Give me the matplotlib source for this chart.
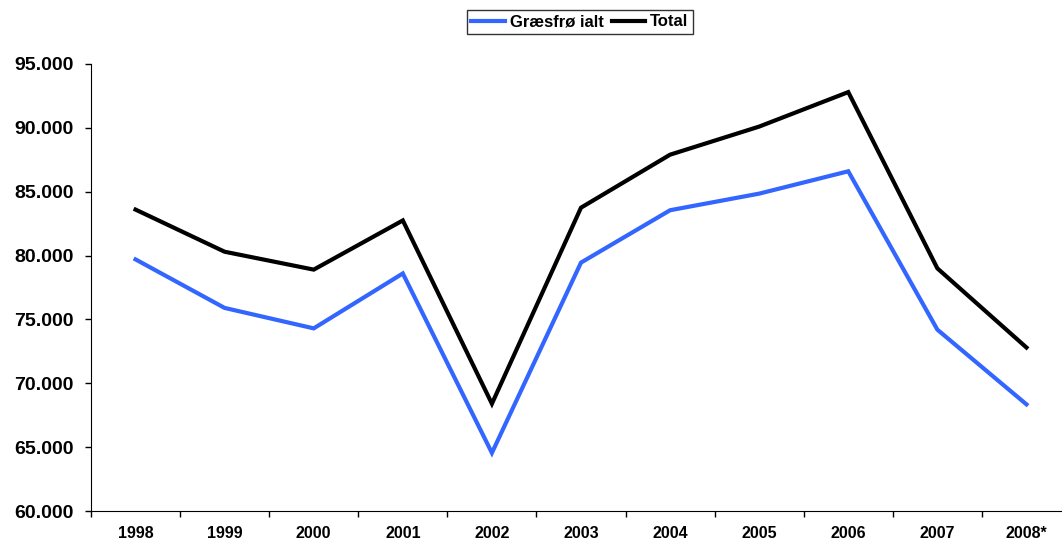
import matplotlib
matplotlib.use("Agg")
import matplotlib.pyplot as plt
from matplotlib.ticker import FuncFormatter, FixedLocator

years = ["1998", "1999", "2000", "2001", "2002", "2003", "2004", "2005", "2006", "2007", "2008*"]
graesfroe = [79700, 75900, 74300, 78600, 64550, 79450, 83550, 84850, 86600, 74200, 68350]
total = [83600, 80300, 78900, 82750, 68400, 83750, 87900, 90100, 92800, 79000, 72800]
yticks = [60000, 65000, 70000, 75000, 80000, 85000, 90000, 95000]

plt.rcParams['font.family'] = ['Liberation Sans', 'DejaVu Sans']
plt.rcParams['font.weight'] = 'bold'

fig = plt.figure(figsize=(10.62, 5.45), dpi=100)
ax = fig.add_axes([91/1062, 34/545, 980/1062, 447/545])

x = list(range(len(years)))
ax.plot(x, graesfroe, color='#3366FF', lw=3, label='Græsfrø ialt', solid_joinstyle='miter')
ax.plot(x, total, color='black', lw=3, label='Total', solid_joinstyle='miter')

ax.set_xlim(-0.5, len(years) - 0.5)
ax.set_ylim(60000, 95000)
ax.set_yticks(yticks)
ax.yaxis.set_major_formatter(FuncFormatter(lambda v, p: f"{int(v):,}".replace(",", ".")))
ax.set_xticks(x)
ax.set_xticklabels(years)
ax.xaxis.set_minor_locator(FixedLocator([i + 0.5 for i in range(-1, len(years))]))
ax.tick_params(axis='x', which='major', length=0, pad=11, labelsize=11.5)
ax.tick_params(axis='x', which='minor', length=4.3, width=1, direction='out')
ax.tick_params(axis='y', length=4.3, width=1, direction='out', pad=8, labelsize=14)
for lab in ax.get_xticklabels() + ax.get_yticklabels():
    lab.set_fontweight('bold')

ax.spines['top'].set_visible(False)
ax.spines['right'].set_visible(False)

leg = fig.legend(loc='center', bbox_to_anchor=(580/1062, 1 - 22/545), ncol=2,
                 frameon=True, fancybox=False, edgecolor='black',
                 handlelength=2.0, handletextpad=0.3, columnspacing=0.5,
                 borderpad=0.25, prop={'weight': 'bold', 'size': 12})
leg.get_frame().set_linewidth(1)

fig.savefig("out.png", dpi=100)
